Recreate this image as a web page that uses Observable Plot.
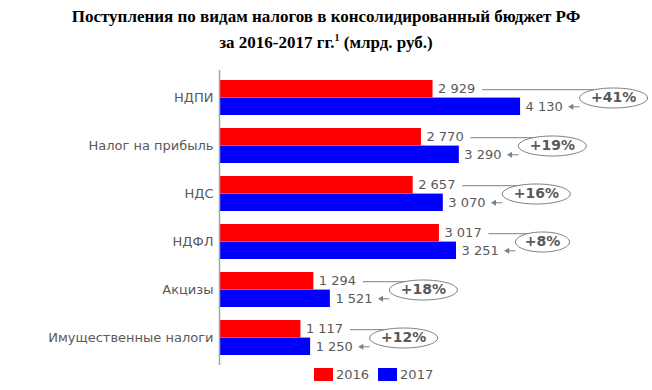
<!DOCTYPE html>
<html><head><meta charset="utf-8">
<script src="https://cdn.jsdelivr.net/npm/d3@7"></script>
<script src="https://cdn.jsdelivr.net/npm/@observablehq/plot@0.6"></script>
<style>
body{margin:0;background:#fff;width:652px;overflow:hidden;}
#title{height:62px;box-sizing:border-box;padding-top:4px;text-align:center;font:bold 17px/26px "Liberation Serif","Times New Roman",serif;color:#000;}
#title sup{font-size:10px;line-height:0;vertical-align:7px;}
#legend{display:flex;align-items:center;padding-left:314px;font:13px "DejaVu Sans",sans-serif;color:#595959;height:14px;}
#legend .sw{width:19px;height:13px;display:inline-block;margin-right:3px;}
#legend .it{display:flex;align-items:center;margin-right:9px;}
</style></head><body>
<div id="title">Поступления по видам налогов в консолидированный бюджет РФ<br>за 2016-2017 гг.<sup>1</sup> (млрд. руб.)</div>
<div id="chart"></div>
<div id="legend"></div>
<script>
const categories = ["НДПИ", "Налог на прибыль", "НДС", "НДФЛ", "Акцизы", "Имущественные налоги"];
const values2016 = [2929, 2770, 2657, 3017, 1294, 1117];
const values2017 = [4130, 3290, 3070, 3251, 1521, 1250];
const growthLabels = ["+41%", "+19%", "+16%", "+8%", "+18%", "+12%"];
const years = ["2016", "2017"];
const colors = ["#ff0000", "#0000ff"];

const W = 652, H = 305, ML = 219, MR = 68.5, MT = 8, MB = 2;
const xMax = 5000;
const px = p => p * xMax / (W - ML - MR); // pixel offset -> data units
const padIn = 0.28, padOut = 0.16;
const step = (H - MT - MB) / (categories.length - padIn + 2 * padOut);
const half = step * (1 - padIn) / 2;
const off = half / 2;

const fmt = d3.formatLocale({decimal: ",", thousands: "\u00a0", grouping: [3], currency: ["", ""]}).format(",d");

const rows = categories.map((c, i) => {
  const rx = growthLabels[i].length > 3 ? 34 : 27;
  return {
    cat: c, v16: values2016[i], v17: values2017[i], g: growthLabels[i], rx,
    lineStart: values2016[i] + px(49),
    cx: values2017[i] + px(59 + rx),
    arrowFrom: values2017[i] + px(59),
    arrowTip: values2017[i] + px(51)
  };
});

const ellipse = {
  draw(ctx, size) {
    const rx = Math.sqrt(size / Math.PI), ry = 10, c = 0.5523;
    ctx.moveTo(rx, 0);
    ctx.bezierCurveTo(rx, ry * c, rx * c, ry, 0, ry);
    ctx.bezierCurveTo(-rx * c, ry, -rx, ry * c, -rx, 0);
    ctx.bezierCurveTo(-rx, -ry * c, -rx * c, -ry, 0, -ry);
    ctx.bezierCurveTo(rx * c, -ry, rx, -ry * c, rx, 0);
    ctx.closePath();
  }
};

const txt = {fill: "#595959", fontSize: 13, textAnchor: "start"};

const chart = Plot.plot({
  width: W, height: H,
  marginLeft: ML, marginRight: MR, marginTop: MT, marginBottom: MB,
  style: {fontFamily: "'DejaVu Sans', Verdana, sans-serif", fontSize: "13px", color: "#595959", background: "#fff"},
  x: {domain: [0, xMax], axis: null},
  y: {domain: categories, paddingInner: padIn, paddingOuter: padOut, label: null, tickSize: 0, tickPadding: 6},
  marks: [
    Plot.barX(rows, {x: "v16", y: "cat", fill: colors[0], insetBottom: half}),
    Plot.barX(rows, {x: "v17", y: "cat", fill: colors[1], insetTop: half}),
    Plot.ruleX([0], {stroke: "#a6a6a6", strokeWidth: 1.5}),
    Plot.text(rows, {...txt, x: "v16", y: "cat", dy: -off, dx: 5, text: d => fmt(d.v16)}),
    Plot.text(rows, {...txt, x: "v17", y: "cat", dy: off, dx: 5, text: d => fmt(d.v17)}),
    Plot.link(rows, {x1: "lineStart", x2: "cx", y1: "cat", y2: "cat", dy: -off + 0.5, stroke: "#7f7f7f", strokeWidth: 1}),
    Plot.link(rows, {x1: "arrowFrom", x2: "arrowTip", y1: "cat", y2: "cat", dy: off, stroke: "#7f7f7f", strokeWidth: 1}),
    Plot.dot(rows, {x: "arrowTip", y: "cat", dy: off, symbol: "triangle", rotate: -90, r: 2.2, fill: "#7f7f7f", stroke: "none"}),
    Plot.dot(rows, {filter: d => d.rx === 34, x: "cx", y: "cat", symbol: ellipse, r: 34, fill: "#fff", stroke: "#7f7f7f", strokeWidth: 1}),
    Plot.dot(rows, {filter: d => d.rx === 27, x: "cx", y: "cat", symbol: ellipse, r: 27, fill: "#fff", stroke: "#7f7f7f", strokeWidth: 1}),
    Plot.text(rows, {x: "cx", y: "cat", text: "g", fill: "#595959", fontSize: 14, fontWeight: "bold", textAnchor: "middle"})
  ]
});
document.getElementById("chart").appendChild(chart);

const lg = document.getElementById("legend");
years.forEach((y, i) => {
  const it = document.createElement("span");
  it.className = "it";
  it.innerHTML = `<span class="sw" style="background:${colors[i]}"></span>${y}`;
  lg.appendChild(it);
});
</script>
</body></html>
